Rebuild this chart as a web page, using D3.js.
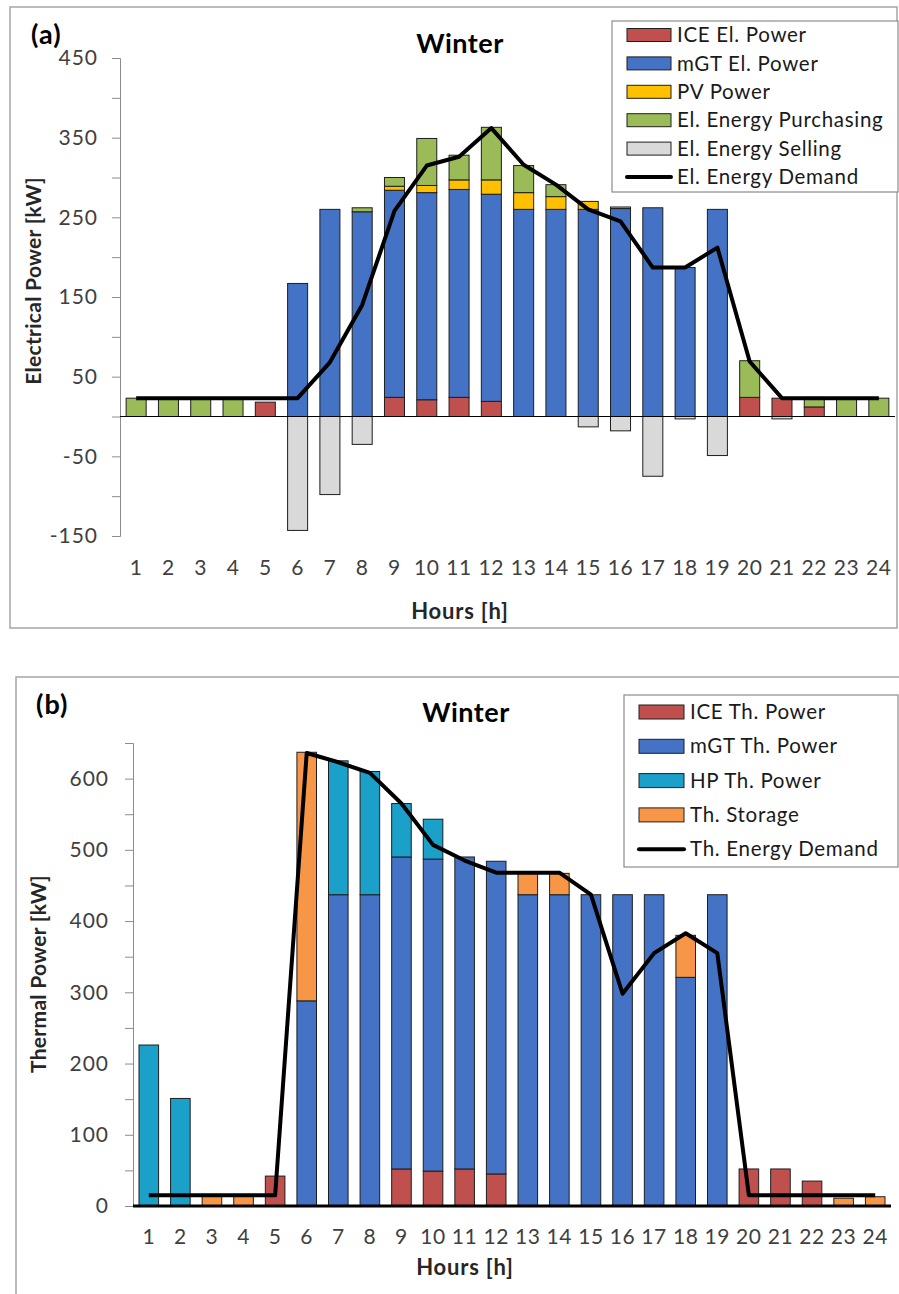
<!DOCTYPE html>
<html>
<head>
<meta charset="utf-8">
<script src="https://cdn.jsdelivr.net/npm/d3@7"></script>
<style>
  body { margin: 0; background: #fff; }
  svg { display: block; font-family: Lato, "Open Sans", sans-serif; }
</style>
</head>
<body>
<div id="chart"></div>
<script>
// hours of the day (x categories)
const hours = [1, 2, 3, 4, 5, 6, 7, 8, 9, 10, 11, 12, 13, 14, 15, 16, 17, 18, 19, 20, 21, 22, 23, 24];

// (a) electrical balance, kW
const iceEl = [0, 0, 0, 0, 18, 0, 0, 0, 24, 21, 24, 19, 0, 0, 0, 0, 0, 0, 0, 24, 23, 12, 0, 0];
const mgtEl = [0, 0, 0, 0, 0, 167, 260, 257, 260, 260, 261, 260, 260, 260, 260, 261, 262, 187, 260, 0, 0, 0, 0, 0];
const pvEl = [0, 0, 0, 0, 0, 0, 0, 0, 5, 9, 12, 18, 21, 16, 10, 2, 0, 0, 0, 0, 0, 0, 0, 0];
const purchEl = [23, 23, 23, 23, 0, 0, 0, 5, 11, 59, 31, 66, 34, 15, 0, 0, 0, 0, 0, 46, 0, 12, 23, 23];
const sellEl = [0, 0, 0, 0, 0, -143, -98, -35, 0, 0, 0, 0, 0, 0, -13, -18, -75, -3, -49, 0, -3, 0, 0, 0];
const demandEl = [23, 23, 23, 23, 23, 23, 68, 140, 258, 315, 326, 362, 316, 291, 260, 245, 187, 187, 212, 69, 23, 23, 23, 23];
const elTicks = [-150, -100, -50, 0, 50, 100, 150, 200, 250, 300, 350, 400, 450];
const elLabels = [-150, -50, 50, 150, 250, 350, 450];

// (b) thermal balance, kW
const iceTh = [0, 0, 0, 0, 42, 0, 0, 0, 52, 49, 52, 45, 0, 0, 0, 0, 0, 0, 0, 52, 52, 35, 0, 0];
const mgtTh = [0, 0, 0, 0, 0, 288, 437, 437, 438, 438, 438, 439, 437, 437, 437, 437, 437, 321, 437, 0, 0, 0, 0, 0];
const hpTh = [226, 151, 0, 0, 0, 0, 188, 173, 75, 56, 0, 0, 0, 0, 0, 0, 0, 0, 0, 0, 0, 0, 0, 0];
const storTh = [0, 0, 14, 14, 0, 349, 0, 0, 0, 0, 0, 0, 30, 30, 0, 0, 0, 59, 0, 0, 0, 0, 11, 13];
const demandTh = [15, 15, 15, 15, 15, 636, 623, 608, 565, 507, 485, 468, 468, 468, 437, 298, 355, 383, 355, 15, 15, 15, 15, 15];
const thTicks = [0, 50, 100, 150, 200, 250, 300, 350, 400, 450, 500, 550, 600, 650];
const thLabels = [0, 100, 200, 300, 400, 500, 600];

const W = 899, H = 1294;
const svg = d3.select("#chart").append("svg").attr("width", W).attr("height", H);

// panel frames
svg.append("rect").attr("x", 10).attr("y", 7).attr("width", 887).attr("height", 621)
  .attr("fill", "none").attr("stroke", "#a6a6a6").attr("stroke-width", 1.5);
svg.append("rect").attr("x", 16).attr("y", 677).attr("width", 900).attr("height", 700)
  .attr("fill", "none").attr("stroke", "#a6a6a6").attr("stroke-width", 1.5);

function drawPanel(p) {
  const g = svg.append("g");
  const x = d3.scaleBand().domain(hours).range(p.xRange).paddingInner(0.38).paddingOuter(0.19);
  const y = d3.scaleLinear().domain(p.yDomain).range(p.yRange);

  const table = hours.map((h, i) => {
    const row = { hour: h };
    p.series.forEach((s) => (row[s.key] = s.values[i]));
    return row;
  });
  const stack = d3.stack().keys(p.series.map((s) => s.key)).offset(d3.stackOffsetDiverging);
  const layers = stack(table);

  layers.forEach((layer, li) => {
    g.append("g")
      .selectAll("rect")
      .data(layer.filter((d) => d[1] !== d[0]))
      .join("rect")
      .attr("x", (d) => x(d.data.hour))
      .attr("width", x.bandwidth())
      .attr("y", (d) => y(Math.max(d[0], d[1])))
      .attr("height", (d) => Math.abs(y(d[0]) - y(d[1])))
      .attr("fill", p.series[li].color)
      .attr("stroke", "#1e1e1e")
      .attr("stroke-width", 1);
  });

  // y axis
  const yAxis = g.append("g")
    .attr("transform", `translate(${p.xRange[0]},0)`)
    .call(d3.axisLeft(y).tickValues(p.ticks).tickSize(8).tickPadding(p.tickPad)
      .tickFormat((d) => (p.labels.includes(d) ? d : "")));
  yAxis.selectAll("line, path").attr("stroke", "#8c8c8c");
  yAxis.selectAll("text").attr("font-size", 21).attr("letter-spacing", 1)
    .attr("fill", "#404040").attr("font-family", "Lato");

  // zero line
  g.append("line")
    .attr("x1", p.xRange[0]).attr("x2", p.xRange[1])
    .attr("y1", y(0)).attr("y2", y(0))
    .attr("stroke", "#000").attr("stroke-width", p.zeroWidth);

  // x axis labels (low position)
  const xAxis = g.append("g")
    .attr("transform", `translate(0,${p.xLabelY})`)
    .call(d3.axisBottom(x).tickSize(0).tickPadding(0));
  xAxis.select(".domain").remove();
  xAxis.selectAll("text").attr("font-size", 21).attr("letter-spacing", 0.6)
    .attr("fill", "#404040").attr("font-family", "Lato");

  // demand line
  const line = d3.line().x((d, i) => x(hours[i]) + x.bandwidth() / 2).y((d) => y(d));
  g.append("path")
    .datum(p.demand)
    .attr("d", line)
    .attr("fill", "none")
    .attr("stroke", "#000")
    .attr("stroke-width", 4)
    .attr("stroke-linejoin", "round");

  // texts
  g.append("text").attr("x", p.tag[0]).attr("y", p.tag[1]).text(p.tagText)
    .attr("font-size", 27).attr("letter-spacing", 1).attr("font-weight", "bold");
  g.append("text").attr("x", p.title[0]).attr("y", p.title[1]).attr("text-anchor", "middle")
    .text("Winter").attr("font-size", 27).attr("letter-spacing", 0.5).attr("font-weight", "bold");
  g.append("text").attr("x", p.xTitle[0]).attr("y", p.xTitle[1]).attr("text-anchor", "middle")
    .text("Hours [h]").attr("font-size", 22).attr("letter-spacing", 0.8)
    .attr("font-weight", "bold").attr("fill", "#262626");
  g.append("text")
    .attr("transform", `translate(${p.yTitle[0]},${p.yTitle[1]}) rotate(-90)`)
    .attr("text-anchor", "middle")
    .text(p.yTitleText).attr("font-size", 21).attr("letter-spacing", 0.3)
    .attr("font-weight", "bold").attr("fill", "#262626");

  // legend
  const L = p.legend;
  g.append("rect").attr("x", L.x).attr("y", L.y).attr("width", L.w).attr("height", L.h)
    .attr("fill", "#fff").attr("stroke", "#8c8c8c").attr("stroke-width", 1.2);
  const items = p.series.filter((s) => s.legend).concat([{ label: p.demandLabel, line: true }]);
  items.forEach((s, i) => {
    const cy = L.y + L.first + i * L.step;
    if (s.line) {
      g.append("line").attr("x1", L.sx).attr("x2", L.sx + L.sw).attr("y1", cy).attr("y2", cy)
        .attr("stroke", "#000").attr("stroke-width", 4).attr("stroke-linecap", "round");
    } else {
      g.append("rect").attr("x", L.sx).attr("y", cy - L.sh / 2).attr("width", L.sw).attr("height", L.sh)
        .attr("fill", s.color).attr("stroke", "#1e1e1e").attr("stroke-width", 1);
    }
    g.append("text").attr("x", L.tx).attr("y", cy).attr("dy", "0.35em")
      .text(s.label).attr("font-size", 20.5).attr("letter-spacing", 0.7).attr("fill", "#1a1a1a");
  });
}

drawPanel({
  xRange: [120, 895],
  yDomain: [-150, 450],
  yRange: [536, 58],
  ticks: elTicks,
  labels: elLabels,
  tickPad: 14,
  zeroWidth: 1.2,
  xLabelY: 560,
  series: [
    { key: "ice", values: iceEl, color: "#C0504D", label: "ICE El. Power", legend: true },
    { key: "mgt", values: mgtEl, color: "#4472C4", label: "mGT El. Power", legend: true },
    { key: "pv", values: pvEl, color: "#FFC000", label: "PV Power", legend: true },
    { key: "buy", values: purchEl, color: "#9BBB59", label: "El. Energy Purchasing", legend: true },
    { key: "sell", values: sellEl, color: "#D9D9D9", label: "El. Energy Selling", legend: true },
  ],
  demand: demandEl,
  demandLabel: "El. Energy Demand",
  tag: [31, 44],
  tagText: "(a)",
  title: [460, 53],
  xTitle: [460, 619],
  yTitle: [41, 281],
  yTitleText: "Electrical Power [kW]",
  legend: { x: 612, y: 21, w: 286, h: 171, first: 14, step: 28.4, sx: 627, sw: 44, sh: 13, tx: 677 },
});

drawPanel({
  xRange: [133, 891],
  yDomain: [0, 650],
  yRange: [1206, 743],
  ticks: thTicks,
  labels: thLabels,
  tickPad: 16,
  zeroWidth: 3,
  xLabelY: 1229,
  series: [
    { key: "ice", values: iceTh, color: "#C0504D", label: "ICE Th. Power", legend: true },
    { key: "mgt", values: mgtTh, color: "#4472C4", label: "mGT Th. Power", legend: true },
    { key: "hp", values: hpTh, color: "#1BA1C9", label: "HP Th. Power", legend: true },
    { key: "st", values: storTh, color: "#F79646", label: "Th. Storage", legend: true },
  ],
  demand: demandTh,
  demandLabel: "Th. Energy Demand",
  tag: [36, 714],
  tagText: "(b)",
  title: [466, 722],
  xTitle: [465, 1275],
  yTitle: [46, 974],
  yTitleText: "Thermal Power [kW]",
  legend: { x: 624, y: 695, w: 274, h: 172, first: 17, step: 34.3, sx: 639, sw: 45, sh: 14, tx: 690 },
});
</script>
</body>
</html>
